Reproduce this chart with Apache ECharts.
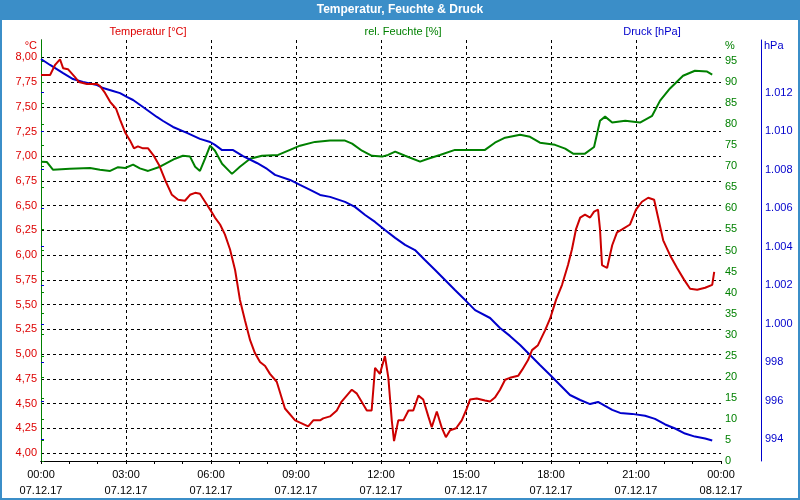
<!DOCTYPE html>
<html>
<head>
<meta charset="utf-8">
<script src="https://cdn.jsdelivr.net/npm/echarts@6/dist/echarts.min.js"></script>
<style>html,body{margin:0;padding:0;background:#fff}#c{width:800px;height:500px}</style>
</head>
<body>
<div id="c"></div>
<script>
// ---- data (hours since 07.12.17 00:00) ----
var tempHours = [0,0.32,0.49,0.67,0.78,0.95,1.20,1.34,1.62,1.98,2.08,2.26,2.44,2.65,2.79,2.97,3.14,3.28,3.42,3.60,3.78,3.99,4.17,4.38,4.62,4.84,5.08,5.26,5.44,5.61,5.79,5.97,6.14,6.32,6.49,6.67,6.85,7.02,7.20,7.38,7.55,7.73,7.91,8.08,8.32,8.61,8.97,9.20,9.43,9.61,9.85,9.96,10.20,10.44,10.61,10.97,11.15,11.50,11.67,11.79,11.96,12.14,12.26,12.38,12.46,12.61,12.79,12.97,13.14,13.32,13.49,13.67,13.79,13.97,14.14,14.29,14.44,14.65,14.85,15.03,15.14,15.38,15.67,15.85,16.02,16.20,16.38,16.55,16.84,16.98,17.19,17.33,17.54,17.79,17.97,18.18,18.39,18.60,18.74,18.88,19.03,19.20,19.38,19.52,19.66,19.73,19.80,19.98,20.16,20.33,20.51,20.79,21.00,21.21,21.43,21.64,21.78,21.96,22.20,22.45,22.70,22.91,23.16,23.44,23.69,23.76];
var tempValues = [7.82,7.82,7.92,7.98,7.89,7.88,7.80,7.75,7.73,7.73,7.71,7.64,7.55,7.48,7.37,7.24,7.16,7.08,7.10,7.08,7.08,7.00,6.91,6.76,6.61,6.56,6.55,6.61,6.63,6.62,6.54,6.46,6.38,6.31,6.21,6.06,5.85,5.55,5.34,5.14,5.01,4.92,4.88,4.80,4.72,4.45,4.33,4.30,4.27,4.33,4.33,4.35,4.37,4.43,4.52,4.64,4.60,4.43,4.43,4.86,4.80,4.98,4.76,4.33,4.12,4.33,4.33,4.43,4.43,4.58,4.54,4.37,4.26,4.42,4.26,4.16,4.23,4.25,4.33,4.45,4.54,4.55,4.53,4.52,4.56,4.64,4.74,4.76,4.78,4.84,4.94,5.04,5.09,5.24,5.36,5.55,5.70,5.90,6.06,6.26,6.38,6.41,6.38,6.44,6.46,6.26,5.90,5.87,6.10,6.23,6.26,6.31,6.46,6.54,6.58,6.56,6.38,6.15,6.00,5.87,5.75,5.66,5.65,5.67,5.70,5.83];

var humHours = [0,0.21,0.42,1.02,1.73,2.08,2.44,2.72,2.97,3.25,3.49,3.78,4.20,4.73,5.01,5.26,5.44,5.61,5.79,5.97,6.14,6.39,6.74,7.02,7.38,7.80,8.37,8.79,9.14,9.67,10.20,10.73,10.98,11.33,11.68,12.04,12.25,12.50,12.85,13.38,13.66,14.08,14.61,15.14,15.67,16.02,16.38,16.91,17.26,17.61,18.14,18.50,18.78,19.20,19.52,19.73,19.91,20.16,20.62,21.14,21.57,21.85,22.20,22.66,23.08,23.51,23.69];
var humValues = [71.1,71.0,69.2,69.4,69.6,69.2,68.9,69.8,69.6,70.4,69.5,68.9,69.9,71.8,72.5,72.3,69.9,68.9,71.8,74.9,73.7,70.6,68.2,69.9,71.8,72.5,72.7,73.9,74.9,75.8,76.1,76.1,75.4,73.7,72.5,72.3,72.7,73.5,72.5,71.1,71.8,72.7,73.9,73.9,73.9,75.6,76.8,77.5,77.0,75.6,75.1,74.2,73.0,73.0,74.6,80.8,81.8,80.4,80.8,80.4,82.0,85.6,88.5,91.5,92.7,92.5,91.8];

var presHours = [0,0.32,0.78,1.13,1.48,1.98,2.19,2.54,2.79,3.03,3.25,3.60,4.09,4.31,4.66,5.15,5.61,5.97,6.14,6.39,6.78,7.13,7.62,7.98,8.26,8.79,9.14,9.50,9.85,10.20,10.73,11.08,11.44,11.79,12.14,12.50,12.85,13.20,13.55,13.91,14.26,14.61,14.97,15.32,15.85,16.20,16.55,16.91,17.26,17.61,17.97,18.32,18.67,19.03,19.38,19.66,19.91,20.16,20.44,20.86,21.32,21.67,22.03,22.38,22.73,23.08,23.44,23.69];
var presValues = [1013.75,1013.44,1013.02,1012.71,1012.56,1012.40,1012.24,1012.09,1011.98,1011.78,1011.62,1011.26,1010.74,1010.53,1010.22,1009.91,1009.60,1009.44,1009.29,1009.02,1009.02,1008.71,1008.35,1008.04,1007.73,1007.47,1007.21,1006.95,1006.69,1006.59,1006.33,1006.07,1005.65,1005.29,1004.87,1004.46,1004.10,1003.83,1003.31,1002.79,1002.27,1001.75,1001.23,1000.71,1000.30,999.78,999.37,998.90,998.38,997.86,997.34,996.82,996.30,996.04,995.83,995.94,995.73,995.53,995.37,995.32,995.22,995.06,994.77,994.56,994.30,994.14,994.04,993.94];

var timeTicks = ['00:00','03:00','06:00','09:00','12:00','15:00','18:00','21:00','00:00'];
var dateTicks = ['07.12.17','07.12.17','07.12.17','07.12.17','07.12.17','07.12.17','07.12.17','07.12.17','08.12.17'];

function zip(a, b) { return a.map(function (v, i) { return [v, b[i]]; }); }

var FONT = 'Liberation Sans';
var RED = '#cc0000', GREEN = '#008000', BLUE = '#0000cc';
var dash = [3, 3];

var chart = echarts.init(document.getElementById('c'), null, {renderer: 'canvas'});
chart.setOption({
  animation: false,
  backgroundColor: '#ffffff',
  textStyle: {fontFamily: FONT, fontSize: 11},
  grid: [
    {left: 41, right: 79, top: 40, bottom: 39},
    {left: 41, right: 79, top: 57.3, bottom: 47},
    {left: 41, right: 79, top: 92.7, bottom: 60.7}
  ],
  xAxis: [
    {gridIndex: 0, type: 'value', min: 0, max: 24, interval: 3, position: 'bottom',
      axisLine: {show: true, lineStyle: {color: '#000', width: 1}},
      axisTick: {show: true, length: 3, lineStyle: {color: '#000'}},
      minorTick: {show: true, splitNumber: 3, length: 3, lineStyle: {color: '#000'}},
      splitLine: {show: true, showMinLine: false, showMaxLine: false, lineStyle: {color: '#000', type: dash, width: 1}},
      axisLabel: {margin: 6, color: '#000', fontFamily: FONT, fontSize: 11, lineHeight: 16,
        formatter: function (v) { var i = Math.round(v / 3); return timeTicks[i] + '\n' + dateTicks[i]; }}
    },
    {gridIndex: 0, type: 'value', min: 0, max: 24, position: 'top',
      axisLine: {show: true, lineStyle: {color: '#000', width: 1}},
      axisTick: {show: false}, axisLabel: {show: false}, splitLine: {show: false}},
    {gridIndex: 1, type: 'value', min: 0, max: 24, show: false},
    {gridIndex: 2, type: 'value', min: 0, max: 24, show: false}
  ],
  yAxis: [
    {gridIndex: 0, type: 'value', min: 0, max: 1, position: 'left',
      axisLine: {show: true, lineStyle: {color: '#000', width: 1}},
      axisTick: {show: false}, axisLabel: {show: false}, splitLine: {show: false}},
    {gridIndex: 0, type: 'value', min: 0, max: 100, interval: 5, position: 'right',
      axisLine: {show: true, lineStyle: {color: GREEN, width: 1}},
      axisTick: {show: true, length: 3, lineStyle: {color: GREEN}},
      splitLine: {show: false},
      axisLabel: {margin: 4, color: GREEN, fontFamily: FONT, fontSize: 11, showMaxLabel: false}},
    {gridIndex: 0, type: 'value', min: 0, max: 1, position: 'right', offset: 40,
      axisLine: {show: true, lineStyle: {color: BLUE, width: 1}},
      axisTick: {show: false}, axisLabel: {show: false}, splitLine: {show: false}},
    {gridIndex: 1, type: 'value', min: 4, max: 8, interval: 0.25, position: 'left',
      axisLine: {show: false}, axisTick: {show: false},
      splitLine: {show: true, lineStyle: {color: '#000', type: dash, width: 1}},
      axisLabel: {margin: 4, color: '#dd0000', fontFamily: FONT, fontSize: 11,
        formatter: function (v) { return v.toFixed(2).replace('.', ','); }}},
    {gridIndex: 2, type: 'value', min: 994, max: 1012, interval: 2, position: 'right', offset: 40,
      axisLine: {show: false},
      axisTick: {show: true, length: 3, lineStyle: {color: BLUE}},
      splitLine: {show: false},
      axisLabel: {margin: 4, color: BLUE, fontFamily: FONT, fontSize: 11,
        formatter: function (v) { v = Math.round(v); return v >= 1000 ? '1.' + String(v - 1000).padStart(3, '0') : String(v); }}}
  ],
  series: [
    {name: 'rel. Feuchte [%]', type: 'line', xAxisIndex: 0, yAxisIndex: 1, data: zip(humHours, humValues),
      showSymbol: false, lineStyle: {color: GREEN, width: 2}, itemStyle: {color: GREEN}, z: 3},
    {name: 'Druck [hPa]', type: 'line', xAxisIndex: 3, yAxisIndex: 4, data: zip(presHours, presValues),
      showSymbol: false, clip: false, lineStyle: {color: BLUE, width: 2}, itemStyle: {color: BLUE}, z: 4},
    {name: 'Temperatur [°C]', type: 'line', xAxisIndex: 2, yAxisIndex: 3, data: zip(tempHours, tempValues),
      showSymbol: false, clip: false, lineStyle: {color: RED, width: 2}, itemStyle: {color: RED}, z: 5}
  ],
  graphic: [
    {type: 'rect', shape: {x: 0, y: 0, width: 800, height: 20}, style: {fill: '#3b8ec8'}, z: 10},
    {type: 'rect', shape: {x: 1, y: 1, width: 798, height: 498}, style: {fill: 'none', stroke: '#3b8ec8', lineWidth: 2}, z: 10},
    {type: 'text', x: 400, y: 10, z: 11, style: {text: 'Temperatur, Feuchte & Druck', fill: '#fff', font: 'bold 12px "Liberation Sans"', textAlign: 'center', textVerticalAlign: 'middle'}},
    {type: 'text', x: 148, y: 32, z: 11, style: {text: 'Temperatur [°C]', fill: '#dd0000', font: '11px "Liberation Sans"', textAlign: 'center', textVerticalAlign: 'middle'}},
    {type: 'text', x: 403, y: 32, z: 11, style: {text: 'rel. Feuchte [%]', fill: GREEN, font: '11px "Liberation Sans"', textAlign: 'center', textVerticalAlign: 'middle'}},
    {type: 'text', x: 652, y: 32, z: 11, style: {text: 'Druck [hPa]', fill: BLUE, font: '11px "Liberation Sans"', textAlign: 'center', textVerticalAlign: 'middle'}},
    {type: 'text', x: 37, y: 46, z: 11, style: {text: '°C', fill: '#dd0000', font: '11px "Liberation Sans"', textAlign: 'right', textVerticalAlign: 'middle'}},
    {type: 'text', x: 725, y: 46, z: 11, style: {text: '%', fill: GREEN, font: '11px "Liberation Sans"', textAlign: 'left', textVerticalAlign: 'middle'}},
    {type: 'text', x: 764, y: 46, z: 11, style: {text: 'hPa', fill: BLUE, font: '11px "Liberation Sans"', textAlign: 'left', textVerticalAlign: 'middle'}}
  ]
});
</script>
</body>
</html>
